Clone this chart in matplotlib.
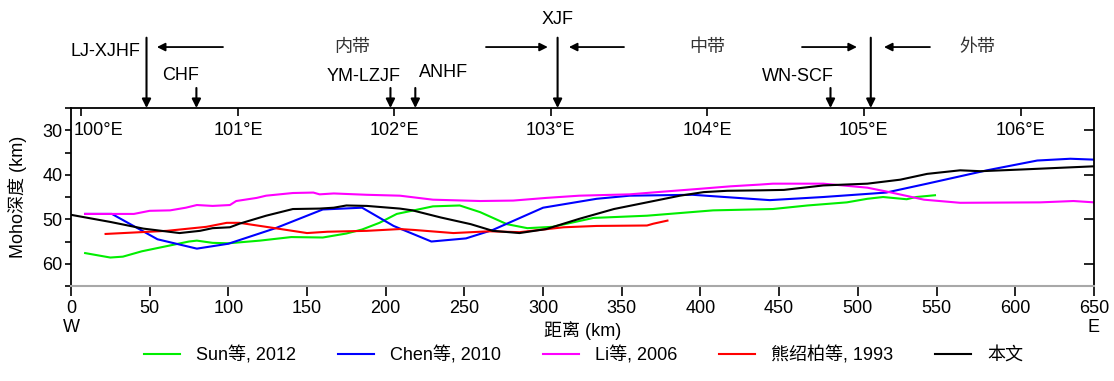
import matplotlib.pyplot as plt
from matplotlib.ticker import MultipleLocator

plt.rcParams['font.family'] = ['Liberation Sans', 'Noto Sans CJK SC']
plt.rcParams['font.size'] = 13

# distance (km) / Moho depth (km)
sun_x = [9, 25, 33, 45, 60, 75, 80, 90, 100, 120, 140, 160, 175, 185, 196, 207, 230, 247,
         260, 277, 290, 306, 332, 366, 408, 446, 468, 493, 506, 516, 531, 537, 549]
sun_y = [57.6, 58.6, 58.4, 57.2, 56.1, 55.0, 54.8, 55.3, 55.4, 54.8, 54.0, 54.1, 53.2, 52.3, 50.8, 48.8, 47.1, 46.9,
         48.4, 51.1, 52.0, 51.7, 49.7, 49.2, 48.0, 47.7, 46.9, 46.2, 45.4, 45.0, 45.5, 45.0, 44.6]

chen_x = [9, 26, 55, 80, 100, 130, 160, 185, 205, 229, 251, 268, 300, 334, 355, 395, 444,
          478, 518, 544, 582, 614, 635, 650]
chen_y = [48.8, 48.8, 54.5, 56.6, 55.5, 52.0, 47.8, 47.4, 51.5, 55.0, 54.3, 52.4, 47.4, 45.4, 44.7, 44.5, 45.7,
          45.0, 44.0, 42.0, 39.0, 36.8, 36.4, 36.6]

li_x = [9, 40, 50, 63, 73, 80, 90, 101, 105, 118, 124, 141, 154, 158, 167, 188, 209, 230, 260,
        281, 302, 323, 355, 376, 398, 419, 438, 446, 478, 506, 520, 542, 565, 616, 637, 650]
li_y = [48.8, 48.8, 48.1, 48.0, 47.4, 46.8, 47.0, 46.8, 45.9, 45.2, 44.7, 44.1, 44.0, 44.4, 44.2, 44.5, 44.7, 45.6, 45.9,
        45.8, 45.2, 44.7, 44.4, 43.8, 43.2, 42.6, 42.2, 42.0, 42.0, 42.9, 43.9, 45.6, 46.3, 46.2, 45.9, 46.2]

xiong_x = [22, 61, 86, 99, 107, 124, 150, 163, 188, 209, 218, 243, 266, 285, 313, 334, 366, 370, 379]
xiong_y = [53.3, 52.6, 51.7, 50.8, 50.8, 51.7, 53.1, 52.8, 52.6, 52.2, 52.4, 53.1, 52.7, 52.9, 51.8, 51.5, 51.4, 51.0, 50.3]

this_x = [0, 25, 46, 69, 82, 90, 101, 107, 124, 141, 158, 167, 175, 188, 209, 217, 235, 254,
          268, 285, 302, 323, 345, 366, 387, 402, 417, 438, 453, 478, 506, 527, 544, 565, 578, 605, 650]
this_y = [49.0, 50.6, 52.1, 53.1, 52.6, 52.0, 51.8, 51.0, 49.2, 47.7, 47.6, 47.4, 46.9, 47.0, 47.6, 48.0, 49.6, 51.1,
          52.6, 53.1, 52.2, 49.9, 47.7, 46.2, 44.7, 43.9, 43.6, 43.5, 43.4, 42.4, 42.0, 41.1, 39.8, 39.0, 39.2, 38.8, 38.1]

lon_pos = [6.4, 106.3, 205.4, 304.8, 404.3, 503.8, 603.4]
lon_labels = ['100°E', '101°E', '102°E', '103°E', '104°E', '105°E', '106°E']

# faults: name, position (km), arrow start depth, label x, label y
fault_names = ['LJ-XJHF', 'CHF', 'YM-LZJF', 'ANHF', 'XJF', 'WN-SCF', '']
fault_pos = [48, 79.7, 203, 218.8, 309.2, 482.6, 508.2]
fault_top = [9.2, 20.5, 20.5, 20.5, 9.2, 20.5, 9.2]
fault_lx = [22, 69.5, 186, 237, 309, 462, 0]
fault_ly = [12.4, 17.8, 18.0, 17.1, 5.2, 18.0, 0]

zone_names = ['内带', '中带', '外带']
zone_lx = [178.5, 404, 576]
zone_arrows = [(96.6, 54.6), (263.7, 303), (351.4, 316.4), (464.5, 499.4), (545.8, 516.6)]

fig = plt.figure(figsize=(11.14, 3.81), dpi=100)
ax = fig.add_axes([0.0637, 0.2493, 0.9183, 0.4672])

ax.plot(sun_x, sun_y, color='#00ee00', lw=1.5, label='Sun等, 2012')
ax.plot(chen_x, chen_y, color='#0000ff', lw=1.5, label='Chen等, 2010')
ax.plot(li_x, li_y, color='#ff00ff', lw=1.5, label='Li等, 2006')
ax.plot(xiong_x, xiong_y, color='#ff0000', lw=1.5, label='熊绍柏等, 1993')
ax.plot(this_x, this_y, color='black', lw=1.5, label='本文')

ax.set_xlim(0, 650)
ax.set_ylim(65, 25)
ax.xaxis.set_major_locator(MultipleLocator(50))
ax.yaxis.set_major_locator(MultipleLocator(10))
ax.yaxis.set_minor_locator(MultipleLocator(5))
ax.set_yticks([30, 40, 50, 60])
ax.tick_params(axis='x', direction='out', length=7, width=1.2, pad=3)
ax.tick_params(axis='y', which='both', direction='out', length=4, width=1.2, pad=2)
for s in ['top', 'left', 'right']:
    ax.spines[s].set_linewidth(1.3)
ax.spines['bottom'].set_color('#a8a8a8')
ax.spines['bottom'].set_linewidth(1.5)

# right-side inward ticks
axr = ax.twinx()
axr.set_ylim(65, 25)
axr.set_yticks([30, 40, 50, 60])
axr.tick_params(axis='y', direction='in', length=7, width=1.2, labelright=False)
for s in axr.spines.values():
    s.set_visible(False)

# top longitude ticks drawn inward
axt = ax.twiny()
axt.set_xlim(0, 650)
axt.set_xticks(lon_pos)
axt.tick_params(axis='x', direction='in', length=6, width=1.2, labeltop=False)
for s in axt.spines.values():
    s.set_visible(False)
for p, lab in zip(lon_pos, lon_labels):
    if p < 50:
        ax.text(1.5, 30, lab, ha='left', va='center')
    else:
        ax.text(p, 30, lab, ha='center', va='center')

ax.set_ylabel('Moho深度 (km)', labelpad=11)
ax.set_xlabel('距离 (km)', labelpad=3)
ax.text(0, 74.4, 'W', ha='center', va='center', clip_on=False)
ax.text(650, 74.4, 'E', ha='center', va='center', clip_on=False)

arr = dict(arrowstyle='-|>', color='black', lw=1.5, mutation_scale=13, shrinkA=0, shrinkB=0)
for name, p, t, lx, ly in zip(fault_names, fault_pos, fault_top, fault_lx, fault_ly):
    ax.annotate('', xy=(p, 25), xytext=(p, t), arrowprops=arr, annotation_clip=False)
    if name:
        ax.text(lx, ly, name, ha='center', va='center', clip_on=False)

for x0, x1 in zone_arrows:
    ax.annotate('', xy=(x1, 11.3), xytext=(x0, 11.3),
                arrowprops=dict(arrowstyle='-|>', color='black', lw=1.3, mutation_scale=12,
                                shrinkA=0, shrinkB=0), annotation_clip=False)
for name, lx in zip(zone_names, zone_lx):
    ax.text(lx, 11.4, name, ha='center', va='center', color='#333333', clip_on=False)

fig.legend(loc='center', bbox_to_anchor=(0.524, 0.068), ncol=5, frameon=False,
           handlelength=2.0, handletextpad=0.9, columnspacing=2.3)

fig.savefig('out.png', dpi=100)
